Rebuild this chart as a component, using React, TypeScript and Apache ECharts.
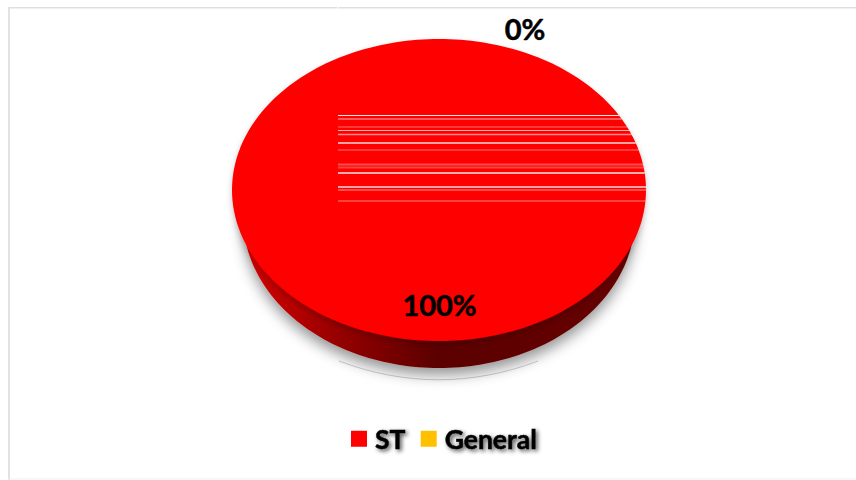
import React, { useEffect, useRef } from "react";
import * as echarts from "echarts";

// Share of each group, in percent
const groups = ["ST", "General"];
const shares = [100, 0];
const sliceColors = ["#ff0000", "#ffc000"];

// Pale streaks across the right half of the disc: [y, thickness, opacity]
const streaks: number[][] = [
  [115.5, 1.2, 0.9], [119, 2, 0.35], [127, 1, 0.45], [130.5, 1.2, 0.7], [134.5, 1.4, 0.55],
  [143, 1.3, 0.85], [150, 1.5, 0.3], [164.5, 2, 0.3], [167.5, 2, 0.25], [173, 1.5, 0.9],
  [187, 1.4, 0.85], [190, 1.4, 0.4], [201, 1.6, 0.35],
];

const cx = 439;
const cy = 190;
const rx = 207;
const ry = 151;
// The far rim sits lower and a little narrower, which gives the disc its tilt
const baseCy = 217;
const baseRx = 196;
const fontFamily = "Lato, 'Noto Sans', sans-serif";

function rimPoint(a: number) {
  return [cx + rx * Math.cos(a), cy + ry * Math.sin(a)];
}

function sliceSeries(index: number) {
  const before = shares.slice(0, index).reduce((s, v) => s + v, 0);
  const labelPos = index === 0 ? [439.5, 304.5] : [525, 28.5];
  return {
    type: "custom",
    name: groups[index],
    coordinateSystem: "none",
    itemStyle: { color: sliceColors[index] },
    data: [shares[index]],
    z: 5 - index,
    renderItem: (_p: unknown, api: any) => {
      const value = api.value(0) as number;
      const start = -Math.PI / 2 + (before / 100) * 2 * Math.PI;
      const span = (value / 100) * 2 * Math.PI;
      const children: any[] = [];
      if (span > 0) {
        const steps = 240;
        const top: number[][] = [];
        const base: number[][] = [];
        for (let i = 0; i <= steps; i++) {
          const a = start + (span * i) / steps;
          top.push(rimPoint(a));
          base.push([cx + baseRx * Math.cos(a), baseCy + ry * Math.sin(a)]);
        }
        children.push({
          type: "polygon",
          shape: { points: base },
          style: {
            fill: new echarts.graphic.LinearGradient(0, 0, 1, 0, [
              { offset: 0, color: "#d80000" },
              { offset: 0.25, color: "#940000" },
              { offset: 0.5, color: "#5a0000" },
              { offset: 1, color: "#680000" },
            ]),
            shadowColor: "rgba(0,0,0,0.42)",
            shadowBlur: 14,
            shadowOffsetY: 7,
          },
        });
        children.push({
          type: "polygon",
          shape: { points: top },
          style: {
            fill: sliceColors[index],
            shadowColor: "rgba(0,0,0,0.22)",
            shadowBlur: 6,
            shadowOffsetY: 3,
          },
        });
      }
      children.push({
        type: "text",
        x: labelPos[0],
        y: labelPos[1],
        z2: 20,
        style: {
          text: `${value}%`,
          fill: "#000",
          stroke: "#000",
          lineWidth: 0.5,
          font: `bold 29px ${fontFamily}`,
          align: "center",
          verticalAlign: "middle",
        },
      });
      return { type: "group", children };
    },
  };
}

function streakLines() {
  return streaks.map(([y, thickness, opacity]) => {
    const t = (y - cy) / ry;
    const right = cx + rx * Math.sqrt(1 - t * t);
    return {
      type: "line",
      z: 10,
      shape: { x1: 338, y1: y, x2: right, y2: y },
      style: { stroke: "#ffffff", lineWidth: thickness, opacity },
    };
  });
}

export default function App() {
  const ref = useRef<HTMLDivElement>(null);

  useEffect(() => {
    document.body.style.margin = "0";
    const chart = echarts.init(ref.current!, null, { renderer: "svg" });
    chart.setOption({
      animation: false,
      backgroundColor: "#ffffff",
      legend: {
        data: groups,
        left: 351,
        top: 425,
        padding: 0,
        icon: "rect",
        itemWidth: 16,
        itemHeight: 16,
        itemGap: 15,
        textStyle: {
          fontFamily,
          fontWeight: "bold",
          fontSize: 26.5,
          color: "#000",
          padding: [0, 0, 4, 3],
          textBorderColor: "#000",
          textBorderWidth: 0.5,
          textShadowColor: "rgba(0,0,0,0.7)",
          textShadowBlur: 4,
          textShadowOffsetX: 2,
          textShadowOffsetY: 2,
        },
      },
      series: [sliceSeries(0), sliceSeries(1)],
      graphic: [
        { type: "rect", z: 0, shape: { x: 8, y: 7, width: 848, height: 1.6 }, style: { fill: "#dfdfdf" } },
        { type: "rect", z: 0, shape: { x: 8, y: 7, width: 2, height: 473 }, style: { fill: "#e2e2e2" } },
        { type: "rect", z: 0, shape: { x: 8, y: 478.5, width: 848, height: 1 }, style: { fill: "#f0f0f0" } },
        { type: "line", z: 0, shape: { x1: 338, y1: 5, x2: 338, y2: 9 }, style: { stroke: "#ffffff", lineWidth: 1 } },
        {
          type: "bezierCurve",
          z: 1,
          shape: { x1: 339, y1: 361, cpx1: 405, cpy1: 386, cpx2: 472, cpy2: 386, x2: 538, y2: 361 },
          style: { stroke: "#cfcfcf", lineWidth: 1, fill: "none" },
        },
        ...streakLines(),
      ],
    });
    return () => chart.dispose();
  }, []);

  return <div ref={ref} style={{ width: 856, height: 480 }} />;
}
